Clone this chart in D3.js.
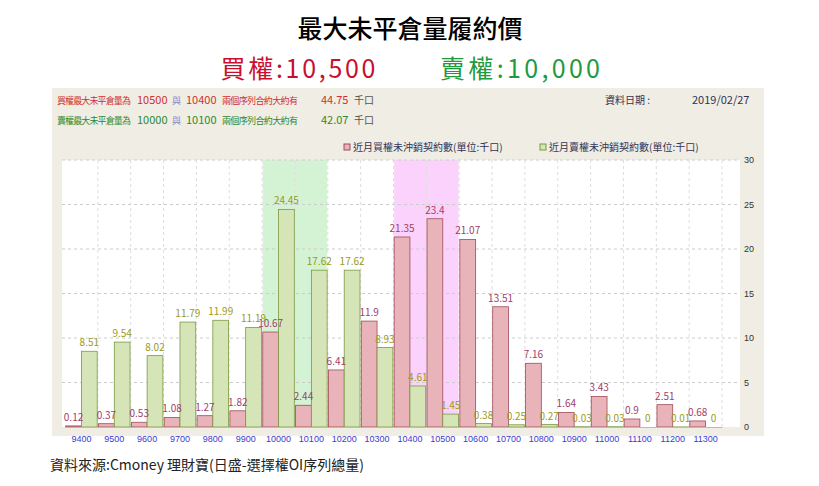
<!DOCTYPE html>
<html><head><meta charset="utf-8">
<script src="https://cdn.jsdelivr.net/npm/d3@7"></script>
<style>body{margin:0;background:#fff;font-family:"Noto Sans CJK TC",sans-serif}</style>
</head><body><svg id="c" width="819" height="486"></svg>
<script>
var strikes = ["9400","9500","9600","9700","9800","9900","10000","10100","10200","10300","10400","10500","10600","10700","10800","10900","11000","11100","11200","11300"];
var callOI = [0.12,0.37,0.53,1.08,1.27,1.82,10.67,2.44,6.41,11.9,21.35,23.4,21.07,13.51,7.16,1.64,3.43,0.9,2.51,0.68];
var putOI = [8.51,9.54,8.02,11.79,11.99,11.19,24.45,17.62,17.62,8.93,4.61,1.45,0.38,0.25,0.27,0.03,0.03,0,0.01,0];
var yTicks = [0,5,10,15,20,25,30];

var svg = d3.select("#c");
var f = "'Noto Sans CJK TC',sans-serif";

svg.append("text").attr("x",410).attr("y",38).attr("text-anchor","middle")
  .style("font-size","25px").style("font-family",f).style("font-weight","500").text("最大未平倉量履約價");
svg.append("text").attr("x",298).attr("y",78).attr("text-anchor","middle").attr("fill","#c8102e")
  .attr("textLength",155).style("font-size","25px").style("font-family",f).text("買權:10,500");
svg.append("text").attr("x",520).attr("y",78).attr("text-anchor","middle").attr("fill","#1f9a3c")
  .attr("textLength",160).style("font-size","25px").style("font-family",f).text("賣權:10,000");

// panel
svg.append("rect").attr("x",52).attr("y",88).attr("width",712).attr("height",348).attr("fill","#efede4");

var info = [
  {y:104,c:"#d03030",a:"買權最大未平倉量為",b:"10500",d:"10400",v:"44.75"},
  {y:124,c:"#2e8a2e",a:"賣權最大未平倉量為",b:"10000",d:"10100",v:"42.07"}
];
info.forEach(function(r){
  var g = svg.append("g").style("font-size","10px").style("font-family",f);
  g.append("text").attr("x",57).attr("y",r.y).attr("fill",r.c).attr("textLength",74).style("font-size","9px").text(r.a);
  g.append("text").attr("x",137).attr("y",r.y).attr("fill",r.c).style("font-size","11px").text(r.b);
  g.append("text").attr("x",172).attr("y",r.y).attr("fill","#8a8ac0").style("font-size","9px").text("與");
  g.append("text").attr("x",186).attr("y",r.y).attr("fill",r.c).style("font-size","11px").text(r.d);
  g.append("text").attr("x",222).attr("y",r.y).attr("fill",r.c).attr("textLength",76).style("font-size","9px").text("兩個序列合約大約有");
  g.append("text").attr("x",321).attr("y",r.y).attr("fill",r.c).style("font-size","11px").text(r.v);
  g.append("text").attr("x",354).attr("y",r.y).attr("fill","#555").text("千口");
});
svg.append("text").attr("x",605).attr("y",104).attr("fill","#335").style("font-size","10px").style("font-family",f).text("資料日期 :");
svg.append("text").attr("x",692).attr("y",104).attr("fill","#335").style("font-size","11px").style("font-family",f).text("2019/02/27");

// legend
[[344,"#e8b4ba","#a04a5a","近月買權未沖銷契約數(單位:千口)"],[540,"#d6e5b8","#7a9a40","近月賣權未沖銷契約數(單位:千口)"]].forEach(function(l){
  svg.append("rect").attr("x",l[0]).attr("y",144).attr("width",6).attr("height",6).attr("fill",l[1]).attr("stroke",l[2]);
  svg.append("text").attr("x",l[0]+9).attr("y",151).attr("fill","#335").style("font-size","10px").style("font-family",f).text(l[3]);
});

var x = d3.scaleBand().domain(strikes).range([65,722]).paddingInner(0.04).paddingOuter(0.02);
var y = d3.scaleLinear().domain([0,30]).range([427,160]);

svg.append("rect").attr("x",62).attr("y",160).attr("width",678).attr("height",267).attr("fill","#fff");
svg.append("rect").attr("x",x("10000")).attr("y",160).attr("width",x("10100")+x.bandwidth()-x("10000")).attr("height",267).attr("fill","#d4f2d4");
svg.append("rect").attr("x",x("10400")).attr("y",160).attr("width",x("10500")+x.bandwidth()-x("10400")).attr("height",267).attr("fill","#fbd2fb");

svg.append("g").selectAll("line").data(yTicks.slice(1)).enter().append("line")
  .attr("x1",62).attr("x2",740).attr("y1",y).attr("y2",y).attr("stroke","#ccc").attr("stroke-dasharray","3,3");
svg.append("g").selectAll("line").data(strikes).enter().append("line")
  .attr("x1",function(d){return x(d)+x.bandwidth()+x.step()*x.paddingInner()/2;}).attr("x2",function(d){return x(d)+x.bandwidth()+x.step()*x.paddingInner()/2;})
  .attr("y1",160).attr("y2",427).attr("stroke","#ddd").attr("stroke-dasharray","3,3");

var x1 = d3.scaleBand().domain(["c","p"]).range([0,x.bandwidth()]);

var gc = svg.append("g");
gc.selectAll("rect").data(callOI).enter().append("rect")
  .attr("x",function(d,i){return x(strikes[i])+x1("c");}).attr("y",y).attr("width",x1.bandwidth())
  .attr("height",function(d){return 427-y(d);}).attr("fill","#e8b4ba").attr("stroke","#a04a5a").attr("stroke-width",0.8);
var gp = svg.append("g");
gp.selectAll("rect").data(putOI).enter().append("rect")
  .attr("x",function(d,i){return x(strikes[i])+x1("p");}).attr("y",y).attr("width",x1.bandwidth())
  .attr("height",function(d){return 427-y(d);}).attr("fill","#d6e5b8").attr("stroke","#7a9a40").attr("stroke-width",0.8);

svg.append("g").selectAll("text").data(callOI).enter().append("text")
  .attr("x",function(d,i){return x(strikes[i])+x1("c")+x1.bandwidth()/2;}).attr("y",function(d){return y(d)-5;})
  .attr("text-anchor","middle").attr("fill","#a0406a").style("font-size","10px").style("font-family",f).text(function(d){return d;});
svg.append("g").selectAll("text").data(putOI).enter().append("text")
  .attr("x",function(d,i){return x(strikes[i])+x1("p")+x1.bandwidth()/2;}).attr("y",function(d){return y(d)-5;})
  .attr("text-anchor","middle").attr("fill","#9a9a1a").style("font-size","10px").style("font-family",f).text(function(d){return d;});

var ya = svg.append("g").attr("transform","translate(740,0)").call(d3.axisRight(y).tickValues(yTicks).tickSize(0).tickPadding(4));
ya.select(".domain").remove();
ya.selectAll("text").style("font-size","9px").attr("fill","#333");

var xa = svg.append("g").attr("transform","translate(0,427)").call(d3.axisBottom(x).tickSize(0).tickPadding(9));
xa.select(".domain").attr("stroke","#bbb");
xa.selectAll("text").style("font-size","9px").attr("fill","#3a3ad0");

svg.append("text").attr("x",50).attr("y",470).style("font-size","14px").style("font-family",f).attr("fill","#222")
  .text("資料來源:Cmoney 理財寶(日盛-選擇權OI序列總量)");
</script></body></html>
